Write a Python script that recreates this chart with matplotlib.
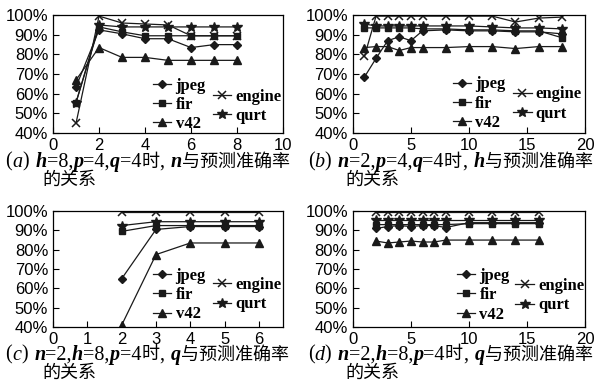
import matplotlib
matplotlib.use('Agg')
import matplotlib.pyplot as plt

plt.rcParams['font.family'] = ['Liberation Sans']

# (a) accuracy vs n  (h=8, p=4, q=4)
n_vals = [1, 2, 3, 4, 5, 6, 7, 8]
a_jpeg = [63.5, 92.5, 90.5, 88, 88, 83.5, 85, 85]
a_fir = [55.5, 94, 91.5, 89.5, 89.5, 89.5, 89.5, 89.5]
a_v42 = [67, 83.5, 78.5, 78.5, 77, 77, 77, 77]
a_engine = [45, 99.5, 96, 95.5, 95, 89.5, 89.5, 89.5]
a_qurt = [55.5, 95, 94, 94, 94, 94, 94, 94]

# (b) accuracy vs h  (n=2, p=4, q=4)
h_vals = [1, 2, 3, 4, 5, 6, 8, 10, 12, 14, 16, 18]
b_jpeg = [68.5, 78, 87, 89, 87, 92, 92.5, 92, 92, 91.5, 91.5, 90.5]
b_fir = [93.5, 93.5, 93.5, 93.5, 93.5, 93, 93, 92.5, 92.5, 92, 92, 88.5]
b_v42 = [83.5, 84, 84, 82, 83.5, 83.5, 83.5, 84, 84, 83, 84, 84]
b_engine = [79, 99.5, 99.5, 99.5, 99.5, 99.5, 99.5, 99.5, 99.5, 96.5, 98.5, 99]
b_qurt = [95.5, 94.5, 94.5, 94.5, 94.5, 94.5, 94.5, 94.5, 94, 93.5, 93.5, 93]

# (c) accuracy vs q  (n=2, h=8, p=4)
q_vals = [2, 3, 4, 5, 6]
c_jpeg = [65, 90.5, 92, 92, 92]
c_fir = [89.5, 92.5, 92.5, 92.5, 92.5]
c_v42 = [41, 77.5, 83.5, 83.5, 83.5]
c_engine = [99.5, 99.5, 99.5, 99.5, 99.5]
c_qurt = [92.5, 94.5, 94.5, 94.5, 94.5]

# (d) accuracy vs q  (n=2, h=8, p=4)
d_vals = [2, 3, 4, 5, 6, 7, 8, 10, 12, 14, 16]
d_jpeg = [91, 92, 92.5, 92, 92.5, 92.5, 91.5, 94, 94, 94, 94]
d_fir = [93, 93, 93, 93, 93, 93, 93, 93.5, 93.5, 93.5, 93.5]
d_v42 = [84.5, 83.5, 84, 84.5, 84, 84, 85, 85, 85, 85, 85]
d_engine = [99.5] * 11
d_qurt = [95.5] * 11

y_ticks = [40, 50, 60, 70, 80, 90, 100]

styles = {
    'jpeg': dict(marker='D', ms=4),
    'fir': dict(marker='s', ms=4),
    'v42': dict(marker='^', ms=5.5),
    'engine': dict(marker='x', ms=6, mew=1.1),
    'qurt': dict(marker='*', ms=7),
}

serif = ['Liberation Serif', 'Noto Sans CJK SC']
leg_prop = dict(family='Liberation Serif', weight='bold', size=12)


def panel(ax, x, series, xticks, xlim, leg1, leg2):
    lines = {}
    for name in ['qurt', 'engine', 'fir', 'jpeg', 'v42']:
        ln, = ax.plot(x, series[name], color='0.1', lw=0.9, label=name, **styles[name])
        lines[name] = ln
    ax.set_xlim(*xlim)
    ax.set_ylim(40, 100)
    ax.set_xticks(xticks)
    ax.set_yticks(y_ticks)
    ax.set_yticklabels(['%d%%' % v for v in y_ticks])
    ax.tick_params(direction='in', length=4, width=0.8, labelsize=12)
    for sp in ax.spines.values():
        sp.set_linewidth(0.9)
    common = dict(loc='upper left', frameon=False, borderpad=0, borderaxespad=0,
                  handlelength=1.1, handletextpad=0.25, labelspacing=0.2, prop=leg_prop)
    l1 = ax.legend(handles=[lines['jpeg'], lines['fir'], lines['v42']],
                   bbox_to_anchor=leg1, **common)
    ax.add_artist(l1)
    ax.legend(handles=[lines['engine'], lines['qurt']], bbox_to_anchor=leg2, **common)


def rich_text(fig, x, y, parts):
    # parts: (text, italic, size); ' ' means a small gap
    r = fig.canvas.get_renderer()
    for s, it, size in parts:
        if s == ' ':
            x += 0.011
            continue
        t = fig.text(x, y, s, fontsize=size, style='italic' if it else 'normal',
                     weight='bold' if it and s not in 'abcd' else 'normal',
                     family=serif, va='center', ha='left')
        x += t.get_window_extent(r).width / fig.bbox.width


def caption(fig, x, y, letter, pre, var, x2):
    lat, cjk = 14.5, 13
    parts = [('(', 0, lat), (letter, 1, lat), (')', 0, lat), (' ', 0, lat)]
    for k, v in pre:
        parts += [(k, 1, lat), (v, 0, lat)]
    parts += [('时', 0, cjk), (',', 0, lat), (' ', 0, lat), (var, 1, lat), ('与预测准确率', 0, cjk)]
    rich_text(fig, x, y, parts)
    fig.text(x2, y - 0.048, '的关系', fontsize=cjk, family=serif, va='center', ha='left')


fig = plt.figure(figsize=(5.99, 3.88), dpi=100)
ax_a = fig.add_axes([0.0885, 0.657, 0.384, 0.304])
ax_b = fig.add_axes([0.589, 0.657, 0.388, 0.304])
ax_c = fig.add_axes([0.0885, 0.157, 0.384, 0.299])
ax_d = fig.add_axes([0.589, 0.157, 0.388, 0.299])

panel(ax_a, n_vals, dict(jpeg=a_jpeg, fir=a_fir, v42=a_v42, engine=a_engine, qurt=a_qurt),
      [0, 2, 4, 6, 8, 10], (0, 10), (0.435, 0.47), (0.696, 0.375))
panel(ax_b, h_vals, dict(jpeg=b_jpeg, fir=b_fir, v42=b_v42, engine=b_engine, qurt=b_qurt),
      [0, 5, 10, 15, 20], (0, 20), (0.43, 0.48), (0.69, 0.395))
panel(ax_c, q_vals, dict(jpeg=c_jpeg, fir=c_fir, v42=c_v42, engine=c_engine, qurt=c_qurt),
      [0, 1, 2, 3, 4, 5, 6], (0, 6.7), (0.435, 0.512), (0.696, 0.431))
panel(ax_d, d_vals, dict(jpeg=d_jpeg, fir=d_fir, v42=d_v42, engine=d_engine, qurt=d_qurt),
      [0, 5, 10, 15, 20], (0, 20), (0.448, 0.51), (0.70, 0.422))

caption(fig, 0.009, 1 - 162 / 388, 'a', [('h', '=8,'), ('p', '=4,'), ('q', '=4')], 'n', 0.070)
caption(fig, 0.514, 1 - 162 / 388, 'b', [('n', '=2,'), ('p', '=4,'), ('q', '=4')], 'h', 0.576)
caption(fig, 0.009, 1 - 355 / 388, 'c', [('n', '=2,'), ('h', '=8,'), ('p', '=4')], 'q', 0.070)
caption(fig, 0.514, 1 - 355 / 388, 'd', [('n', '=2,'), ('h', '=8,'), ('p', '=4')], 'q', 0.576)

fig.savefig('out.png', dpi=100)
